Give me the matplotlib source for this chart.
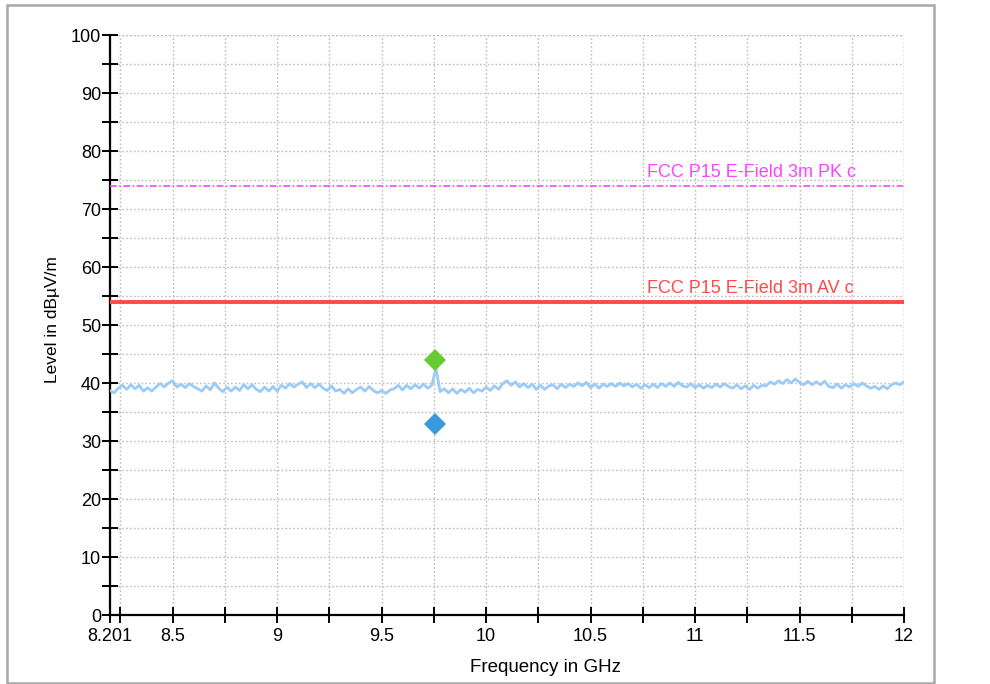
import numpy as np
import matplotlib
matplotlib.use("Agg")
import matplotlib.pyplot as plt
from matplotlib.patches import Rectangle

plt.rcParams['font.family'] = ['Liberation Sans', 'DejaVu Sans']

# ---------------- data ----------------
f_start, f_stop = 8.2, 12.0
level = [
    38.7, 38.3, 39.1, 39.6, 38.9, 39.7, 39.0, 39.6, 38.6, 39.2,   # 8.20
    38.6, 39.3, 39.9, 39.3, 40.0, 40.4, 39.3, 39.8, 39.2, 39.9,   # 8.40
    39.4, 39.0, 38.6, 39.5, 38.8, 40.0, 39.1, 38.5, 39.3, 38.6,   # 8.60
    39.3, 38.7, 39.7, 39.0, 39.7, 38.9, 38.5, 39.3, 38.6, 39.4,   # 8.80
    38.6, 39.6, 39.1, 39.9, 39.3, 39.8, 40.2, 39.2, 39.9, 39.2,   # 9.00
    39.8, 39.1, 38.7, 39.5, 38.6, 38.9, 38.2, 39.0, 38.3, 38.9,   # 9.20
    39.3, 38.6, 39.4, 38.7, 38.3, 38.7, 38.2, 38.8, 39.0, 39.6,   # 9.40
    38.8, 39.6, 39.0, 39.7, 39.1, 39.8, 39.1, 39.6, 42.5, 38.5,   # 9.60
    39.0, 38.3, 39.0, 38.2, 38.9, 38.4, 39.1, 38.3, 38.9, 38.6,   # 9.80
    39.3, 38.7, 39.5, 38.9, 39.9, 40.4, 39.6, 40.2, 39.3, 39.9,   # 10.00
    39.2, 39.8, 38.9, 39.6, 38.9, 39.5, 39.7, 39.0, 39.8, 39.2,   # 10.20
    39.8, 39.4, 40.0, 39.5, 40.1, 39.2, 39.8, 39.1, 39.8, 39.4,   # 10.40
    39.9, 39.4, 40.0, 39.5, 39.9, 39.3, 39.8, 39.1, 39.7, 39.2,   # 10.60
    39.8, 39.2, 39.9, 39.4, 40.0, 39.4, 40.1, 39.5, 39.3, 39.9,   # 10.80
    39.2, 39.7, 39.1, 39.6, 39.2, 39.8, 39.3, 39.9, 39.4, 39.1,   # 11.00
    39.7, 39.0, 39.5, 38.9, 39.6, 39.1, 39.6, 39.5, 40.2, 39.8,   # 11.20
    40.4, 39.9, 40.6, 40.0, 40.7, 40.1, 39.7, 40.3, 39.7, 40.2,   # 11.40
    39.7, 40.3, 39.4, 39.2, 39.8, 39.1, 39.7, 39.3, 39.9, 39.4,   # 11.60
    40.0, 39.5, 39.1, 39.4, 38.9, 39.5, 39.0, 39.7, 40.0, 39.7,   # 11.80
    40.2,                                                         # 12.00
]
freq = np.linspace(f_start, f_stop, len(level))

limit_pk = 74.0
limit_av = 54.0
limit_pk_label = "FCC P15 E-Field 3m PK c"
limit_av_label = "FCC P15 E-Field 3m AV c"

marker_freq = [9.755]
marker_pk = [44.0]
marker_av = [33.0]

x_major = [8.2, 8.5, 9.0, 9.5, 10.0, 10.5, 11.0, 11.5, 12.0]
x_labels = ["8.201", "8.5", "9", "9.5", "10", "10.5", "11", "11.5", "12"]
x_minor = [8.25, 8.75, 9.25, 9.75, 10.25, 10.75, 11.25, 11.75]
y_major = list(range(0, 101, 10))
y_minor = list(range(5, 100, 10))

# ---------------- figure ----------------
W, H = 990, 684
fig = plt.figure(figsize=(W / 100, H / 100), dpi=100)
fig.patch.set_facecolor('white')

# outer frame
fig.patches.append(Rectangle((7 / W, 1 - 683 / H), (934 - 7) / W, (683 - 5) / H,
                             transform=fig.transFigure, fill=False,
                             edgecolor='#A8A8A8', linewidth=1.8))

L, R, T, B = 110, 904, 35, 615
ax = fig.add_axes([L / W, 1 - B / H, (R - L) / W, (B - T) / H])
ax.set_xlim(f_start, f_stop)
ax.set_ylim(0, 100)

for s in ['top', 'right']:
    ax.spines[s].set_visible(False)
for s in ['left', 'bottom']:
    ax.spines[s].set_linewidth(1.6)
    ax.spines[s].set_color('black')

ax.set_xticks(x_major)
ax.set_xticklabels(x_labels)
ax.set_xticks(x_minor, minor=True)
ax.set_yticks(y_major)
ax.set_yticks(y_minor, minor=True)

ax.tick_params(which='both', direction='inout', length=11, width=1.4, color='black')
ax.tick_params(axis='x', which='both', labelsize=13, pad=4)
ax.tick_params(axis='y', which='both', labelsize=13, pad=1)

grid_style = dict(linestyle=(0, (1.2, 1.6)), color='#BDBDBD', linewidth=1.0)
ax.grid(True, which='both', **grid_style)
ax.set_axisbelow(True)
ax.axhline(100, zorder=0.5, **grid_style)
ax.axvline(12.0, zorder=0.5, **grid_style)

# trace
ax.plot(freq, level, color='#9DCBF7', linewidth=2.0, zorder=3)

# limit lines
ax.plot([f_start, f_stop], [limit_pk, limit_pk], color='#FF44FF', linewidth=1.2,
        linestyle=(0, (4, 1.5, 1, 1.5)), zorder=3)
ax.plot([f_start, f_stop], [limit_av, limit_av], color='#FF4A4A', linewidth=2.8, zorder=3)

ax.text(10.77, limit_pk + 0.8, limit_pk_label, color='#FF44FF', fontsize=13,
        ha='left', va='bottom', clip_on=False, zorder=4)
ax.text(10.77, limit_av + 0.8, limit_av_label, color='#FF4A4A', fontsize=13,
        ha='left', va='bottom', clip_on=False, zorder=4)

# markers
ax.plot(marker_freq, marker_pk, linestyle='none', marker='D', markersize=11,
        color='#66CC33', markeredgewidth=0, zorder=5)
ax.plot(marker_freq, marker_av, linestyle='none', marker='D', markersize=11,
        color='#3A98DC', markeredgewidth=0, zorder=5)

# axis labels
fig.text(52 / W, 1 - 320 / H, "Level in dBµV/m", rotation=90, fontsize=12.5,
         ha='center', va='center')
fig.text(545 / W, 1 - 667 / H, "Frequency in GHz", fontsize=13.5,
         ha='center', va='center')

fig.savefig("out.png", dpi=100)
